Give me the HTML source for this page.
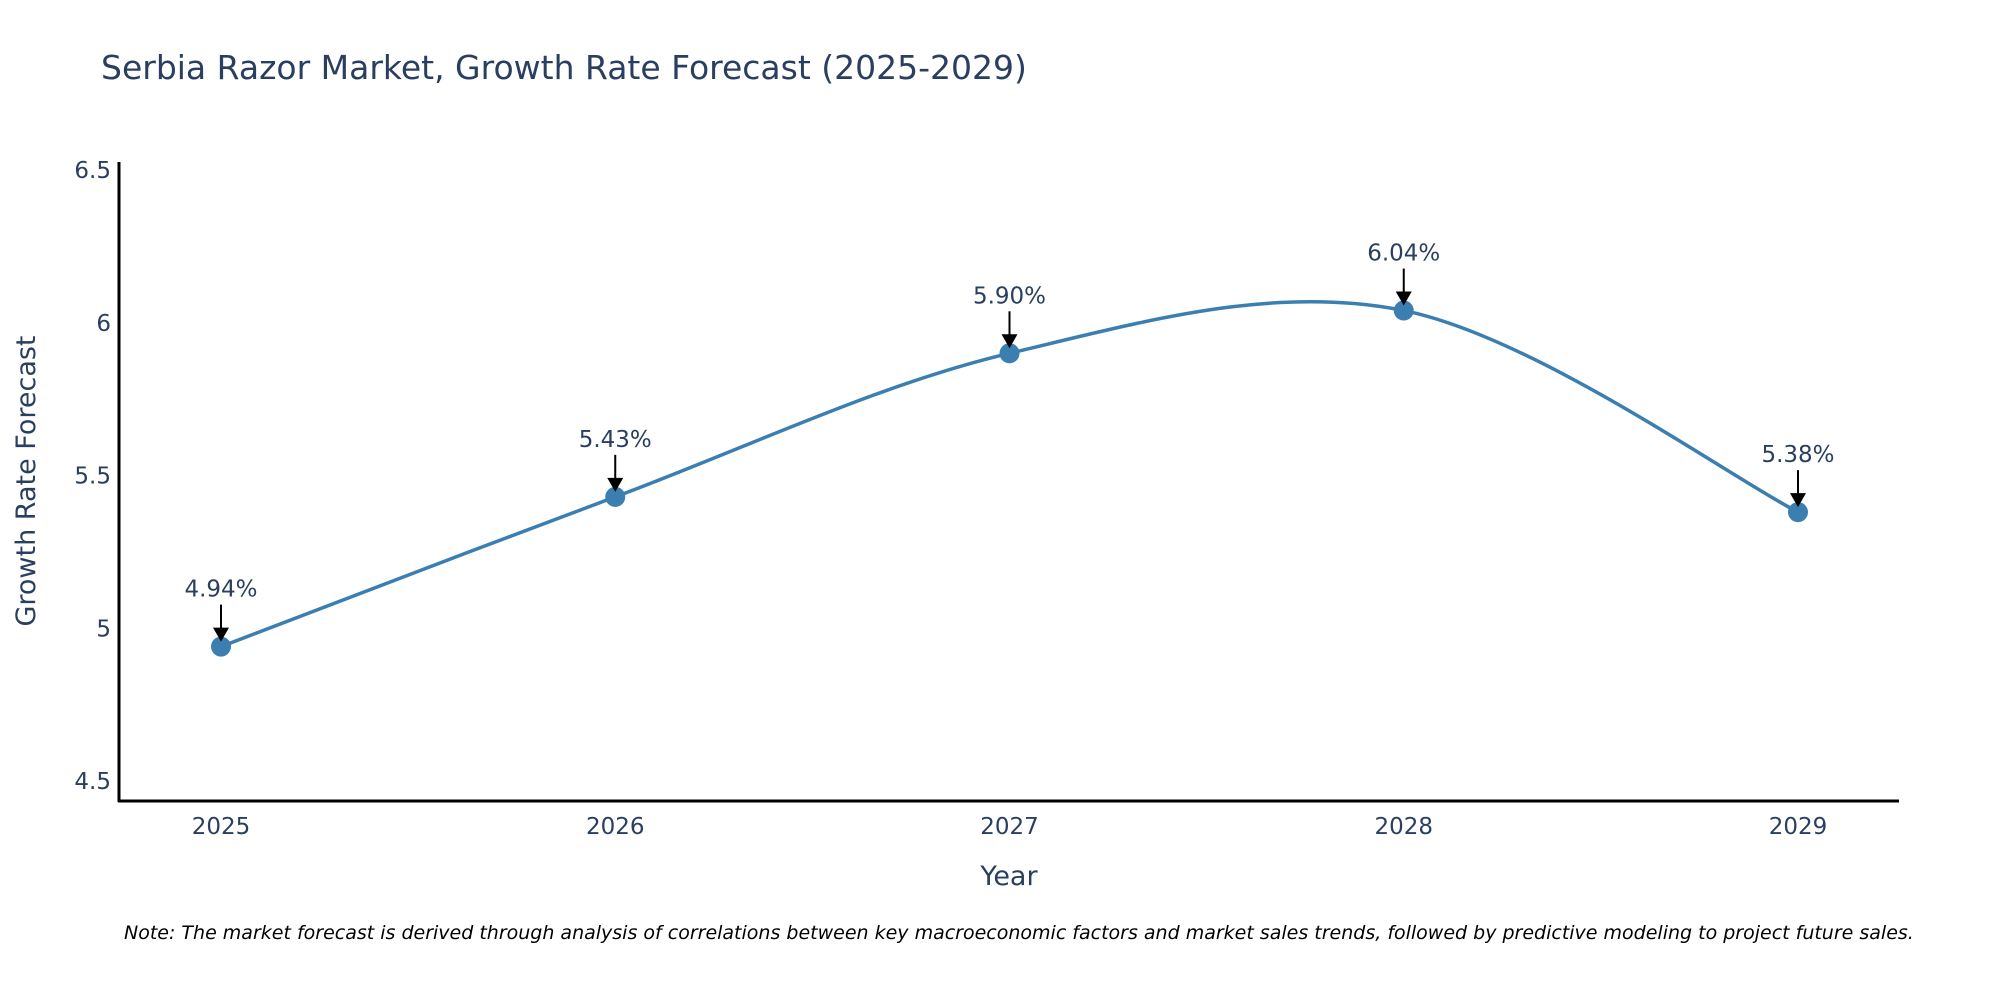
<!DOCTYPE html>
<html><head><meta charset="utf-8"><style>
html,body{margin:0;padding:0;background:#fff;}
svg{display:block;font-family:"DejaVu Sans","Liberation Sans",sans-serif;}
</style></head><body>
<svg id="chart" width="2000" height="1000" viewBox="0 0 2000 1000">
<text x="101" y="79" font-size="33" fill="#2a3f5f">Serbia Razor Market, Growth Rate Forecast (2025-2029)</text>
<g id="yticks"></g>
<g id="xticks"></g>
<line x1="119" y1="162" x2="119" y2="802" stroke="#000" stroke-width="3"/>
<line x1="118" y1="801" x2="1899" y2="801" stroke="#000" stroke-width="3"/>
<text x="1009" y="885" font-size="27" fill="#2a3f5f" text-anchor="middle">Year</text>
<text transform="translate(35,481) rotate(-90)" font-size="27" fill="#2a3f5f" text-anchor="middle">Growth Rate Forecast</text>
<g id="series"></g>
<g id="annots"></g>
<text x="124" y="939" font-size="19" font-style="italic" fill="#000">Note: The market forecast is derived through analysis of correlations between key macroeconomic factors and market sales trends, followed by predictive modeling to project future sales.</text>
</svg>
<script>
const years = [2025, 2026, 2027, 2028, 2029];
const growth = [4.94, 5.43, 5.90, 6.04, 5.38];
const labels = ["4.94%", "5.43%", "5.90%", "6.04%", "5.38%"];
const yTicks = [4.5, 5, 5.5, 6, 6.5];
const yTickLabels = ["4.5", "5", "5.5", "6", "6.5"];

const NS = "http://www.w3.org/2000/svg";
function xs(v){ return 221 + (v - 2025) * 394.25; }
function ys(v){ return 781 - (v - 4.5) * 305.5; }
function mk(tag, attrs, parent){ const e = document.createElementNS(NS, tag); for (const k in attrs) e.setAttribute(k, attrs[k]); parent.appendChild(e); return e; }

const yg = document.getElementById('yticks');
yTicks.forEach((t,i)=>{
  const e = mk('text', {x:111, y:ys(t)+8, 'font-size':23, fill:'#2a3f5f', 'text-anchor':'end'}, yg);
  
  
  e.textContent = yTickLabels[i];
});
const xg = document.getElementById('xticks');
years.forEach(y=>{
  const e = mk('text', {x:xs(y), y:834, 'font-size':23, fill:'#2a3f5f', 'text-anchor':'middle'}, xg);
  
  
  e.textContent = String(y);
});

const pts = years.map((y,i)=>[xs(y), ys(growth[i])]);
let d = `M${pts[0][0]},${pts[0][1]}`;
for (let i=0;i<pts.length-1;i++){
  const p0 = pts[Math.max(0,i-1)], p1 = pts[i], p2 = pts[i+1], p3 = pts[Math.min(pts.length-1,i+2)];
  const t = 1/6;
  const c1 = [p1[0]+(p2[0]-p0[0])*t, p1[1]+(p2[1]-p0[1])*t];
  const c2 = [p2[0]-(p3[0]-p1[0])*t, p2[1]-(p3[1]-p1[1])*t];
  d += ` C${c1[0]},${c1[1]} ${c2[0]},${c2[1]} ${p2[0]},${p2[1]}`;
}
const sg = document.getElementById('series');
const line = mk('path', {d:d, fill:'none', stroke:'#3b7fb1', 'stroke-width':3.5}, sg);


pts.forEach(p=>{
  const c = mk('circle', {cx:p[0], cy:p[1], r:10, fill:'#3b7fb1'}, sg);
  
  
});

const ag = document.getElementById('annots');
pts.forEach((p,i)=>{
  const l = mk('line', {x1:p[0], y1:p[1]-42, x2:p[0], y2:p[1]-16, stroke:'#000', 'stroke-width':2}, ag);
  
  
  const h = mk('polygon', {points:`${p[0]-8},${p[1]-19} ${p[0]+8},${p[1]-19} ${p[0]},${p[1]-5}`, fill:'#000'}, ag);
  
  
  const t = mk('text', {x:p[0], y:p[1]-50, 'font-size':23, fill:'#2a3f5f', 'text-anchor':'middle'}, ag);
  
  
  t.textContent = labels[i];
});
</script>
</body></html>
